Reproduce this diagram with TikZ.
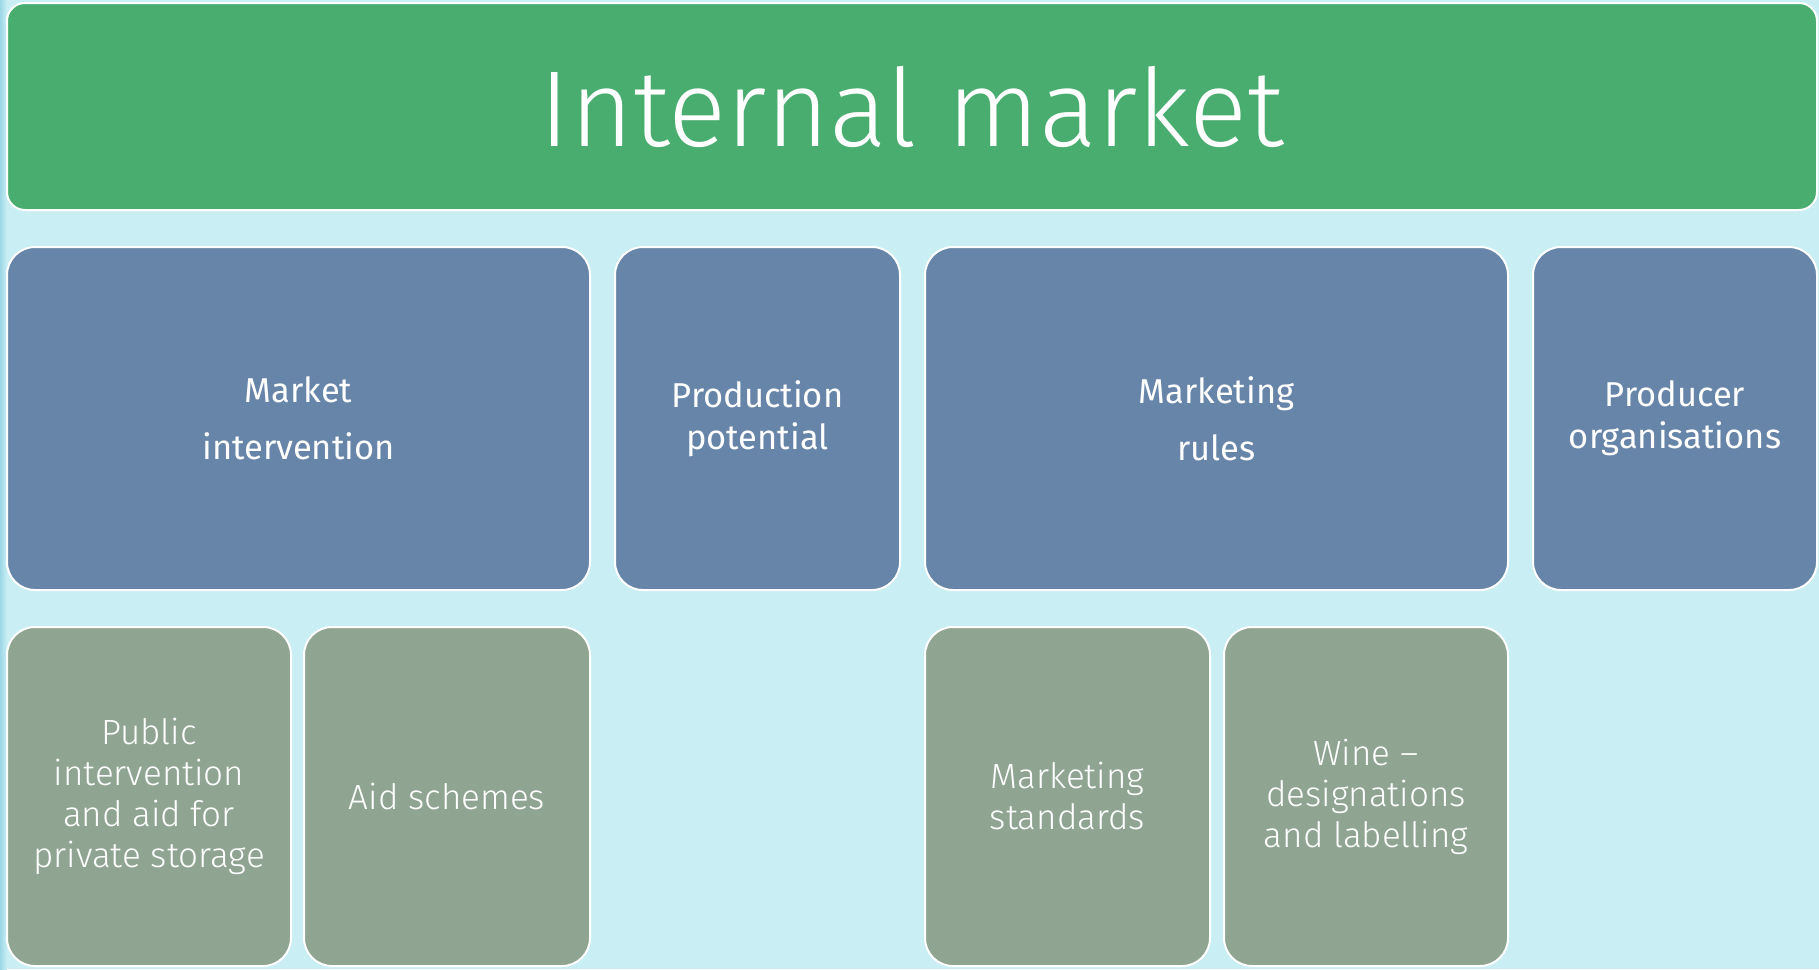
\documentclass[tikz,border=0pt]{standalone}
\usepackage{fontspec}
\setmainfont{Fira Sans}
\newfontfamily\lightfont{Fira Sans Light}
\usetikzlibrary{positioning}
\definecolor{bgcyan}{HTML}{C9EFF5}
\definecolor{edgecyan}{HTML}{9DD6E6}
\definecolor{headgreen}{HTML}{49AD6F}
\definecolor{mainblue}{HTML}{6785A8}
\definecolor{subgrey}{HTML}{8FA591}

\begin{document}
\begin{tikzpicture}[x=1pt, y=-1pt, node distance=23pt,
		headbox/.style={rounded corners=18pt, draw=white, line width=2pt, fill=headgreen, text=white, minimum width=1810pt, minimum height=207pt, font=\lightfont\fontsize{108}{120}\selectfont},
		mainbox/.style={rounded corners=28pt, draw=white, line width=2pt, fill=mainblue, text=white, minimum height=343pt, align=center, font=\fontsize{34.5}{42}\selectfont},
		subbox/.style={rounded corners=28pt, draw=white, line width=2pt, fill=subgrey, text=white, minimum height=339pt, align=center, font=\lightfont\fontsize{35}{41}\selectfont}]
		\useasboundingbox (0,0) rectangle (1819,969);
		\fill[bgcyan] (0,0) rectangle (1819,969);
		\shade[left color=edgecyan, right color=bgcyan] (0,0) rectangle (7,969);

		\node (head) [headbox] at (912,106.5) {Internal market};

		\node (interv) [mainbox, minimum width=583pt] at (298.5,418.5) {Market\\[15pt]intervention};
		\node (potent) [mainbox, minimum width=285pt, right=of interv] {Production\\potential};
		\node (rules)  [mainbox, minimum width=583pt, right=of potent] {Marketing\\[15pt]rules};
		\node (prodorg) [mainbox, minimum width=284pt, right=of rules] {Producer\\organisations};

		\node (public) [subbox, minimum width=284pt, below=35pt of interv.south west, anchor=north west] {Public\\intervention\\and aid for\\private storage};
		\node (aid)    [subbox, minimum width=286pt, right=11pt of public] {Aid schemes};
		\node (stand)  [subbox, minimum width=285pt, below=35pt of rules.south west, anchor=north west] {Marketing\\standards};
		\node (wine)   [subbox, minimum width=284pt, right=12pt of stand] {Wine –\\designations\\and labelling};
	\end{tikzpicture}
\end{document}
